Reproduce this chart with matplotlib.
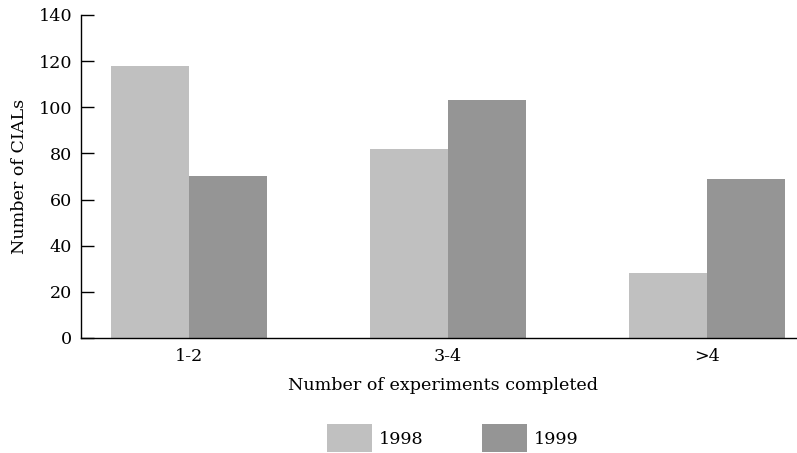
import matplotlib.pyplot as plt
import numpy as np

categories = ['1-2', '3-4', '>4']
values_1998 = [118, 82, 28]
values_1999 = [70, 103, 69]
series_labels = ['1998', '1999']

plt.rcParams['font.family'] = 'DejaVu Serif'
fs = 12.6

fig = plt.figure(figsize=(7.97, 4.53), dpi=100)
ax = fig.add_axes([0.1016, 0.2539, 0.8984, 0.713])

x = np.arange(len(categories))
width = 0.3
b1 = ax.bar(x - width / 2, values_1998, width, color='#c0c0c0', label=series_labels[0])
b2 = ax.bar(x + width / 2, values_1999, width, color='#959595', label=series_labels[1])

ax.set_xlim(-0.417, 2.347)
ax.set_ylim(0, 140)
ax.set_yticks(range(0, 141, 20))
ax.set_xticks(x)
ax.set_xticklabels(categories)

ax.tick_params(axis='y', direction='in', length=9.4, width=1, pad=6.5, labelsize=fs)
ax.tick_params(axis='x', length=0, pad=7, labelsize=fs)

for side in ['top', 'right']:
    ax.spines[side].set_visible(False)
for side in ['left', 'bottom']:
    ax.spines[side].set_linewidth(1)

ax.set_xlabel('Number of experiments completed', fontsize=fs)
ax.xaxis.set_label_coords(0.5056, -0.121)
ax.set_ylabel('Number of CIALs', fontsize=fs)
ax.yaxis.set_label_coords(-0.074, 0.50)

fig.legend(handles=[b1, b2], labels=series_labels, loc='center',
           bbox_to_anchor=(0.568, 0.033), ncol=2, frameon=False, fontsize=fs,
           handlelength=2.6, handleheight=2.1, handletextpad=0.4,
           columnspacing=3.3)

fig.savefig('out.png', dpi=100)
